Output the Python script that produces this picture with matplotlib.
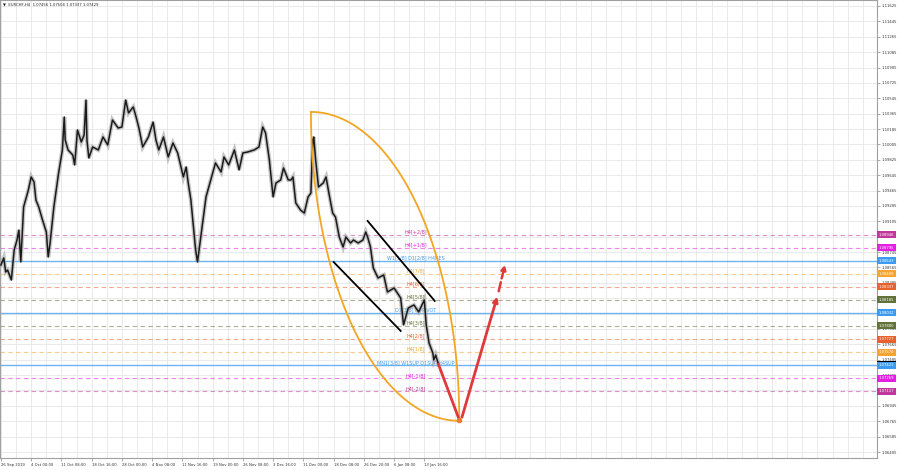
import numpy as np
import matplotlib
matplotlib.use("Agg")
from matplotlib import pyplot as plt

# price path (bar index, close)
bars = [0, 3, 5, 7, 11, 14, 17, 19, 21, 24, 29, 32, 35, 37, 40, 44, 48, 50, 52, 56,
        61, 65, 67, 68, 71, 76, 78, 81, 85, 88, 90, 91, 93, 97, 103, 108, 113, 118, 124, 128,
        132, 135, 140, 143, 146, 150, 156, 161, 164, 167, 172, 177, 182, 187, 193, 196, 198, 201, 204, 206,
        208, 212, 217, 222, 227, 233, 236, 241, 247, 252, 256, 261, 268, 273, 277, 280, 284, 288, 291, 296,
        299, 304, 307, 309, 312, 317, 321, 325, 328, 330, 331, 333, 336, 341, 344, 347, 351, 354, 358, 362,
        365, 370, 373, 378, 383, 386, 388, 391, 394, 399, 405, 409, 416, 423, 426, 431, 437, 442, 448, 450,
        453, 457, 458, 460, 463]
close = [1.08594, 1.08676, 1.08512, 1.08535, 1.08418, 1.08769, 1.08886, 1.09003, 1.08629, 1.09273,
         1.09471, 1.09624, 1.09565, 1.09354, 1.09273, 1.09120, 1.08980, 1.08687, 1.08851, 1.09273,
         1.09670, 1.09940, 1.10326, 1.10057, 1.09940, 1.09881, 1.09764, 1.10174, 1.10033, 1.10115,
         1.10525, 1.10057, 1.09846, 1.09975, 1.09940, 1.10092, 1.09998, 1.10291, 1.10197, 1.10209,
         1.10525, 1.10373, 1.10443, 1.10326, 1.10197, 1.09975, 1.10092, 1.10267, 1.10057, 1.09940,
         1.10092, 1.09858, 1.10022, 1.09905, 1.09624, 1.09741, 1.09565, 1.09354, 1.09003, 1.08769,
         1.08629, 1.08968, 1.09390, 1.09589, 1.09788, 1.09682, 1.09858, 1.09764, 1.09940, 1.09706,
         1.09905, 1.09916, 1.09940, 1.09975, 1.10209, 1.10139, 1.09823, 1.09390, 1.09553, 1.09589,
         1.09729, 1.09589, 1.09589, 1.09624, 1.09319, 1.09237, 1.09202, 1.09390, 1.09436, 1.10057,
         1.10092, 1.09823, 1.09507, 1.09553, 1.09624, 1.09436, 1.09202, 1.09155, 1.08921, 1.08804,
         1.08921, 1.08851, 1.08886, 1.08851, 1.08886, 1.08980, 1.08921, 1.08804, 1.08559, 1.08442,
         1.08477, 1.08278, 1.08324, 1.08207, 1.07892, 1.08090, 1.08126, 1.08044, 1.08184, 1.07892,
         1.07681, 1.07564, 1.07482, 1.07540, 1.07429]

# murrey levels
level_prices = [1.08946, 1.08795, 1.08643, 1.08490, 1.08337, 1.08185, 1.08032,
                1.07880, 1.07727, 1.07574, 1.07421, 1.07269, 1.07117]
level_names = ["H4[+2/8]", "H4[+1/8]", "W1[1/8] D1[2/8] H4RES", "H4[7/8]", "H4[6/8]", "H4[5/8]",
               "D1[3/8] H4PIVOT", "H4[3/8]", "H4[2/8]", "H4[1/8]", "MN1[3/8] W1SUP D1SUP H4SUP",
               "H4[-1/8]", "H4[-2/8]"]
level_colors = ['#C0399A', '#E21FE2', '#3D9BEF', '#F5A331', '#E8612C', '#63723A', '#3D9BEF',
                '#63723A', '#E8612C', '#F5A331', '#3D9BEF', '#E21FE2', '#C0399A']
level_solid = [False, False, True, False, False, False, True, False, False, False, True, False, False]

last_price = 1.07429

# x axis
date_ticks = [0, 32, 64, 96, 128, 160, 192, 224, 256, 288, 320, 352, 384, 416, 448]
date_labels = ["26 Sep 2019", "4 Oct 00:00", "11 Oct 08:00", "18 Oct 16:00", "28 Oct 00:00",
               "4 Nov 08:00", "11 Nov 16:00", "19 Nov 00:00", "26 Nov 08:00", "3 Dec 16:00",
               "11 Dec 00:00", "18 Dec 08:00", "26 Dec 20:00", "6 Jan 08:00", "13 Jan 16:00"]
price_ticks = [1.06405, 1.06585, 1.06765, 1.06945, 1.07125, 1.07305, 1.07485, 1.07665, 1.07845,
               1.08025, 1.08205, 1.08385, 1.08565, 1.08745, 1.08925, 1.09105, 1.09285, 1.09465,
               1.09645, 1.09825, 1.10005, 1.10185, 1.10365, 1.10545, 1.10725, 1.10905, 1.11085,
               1.11265, 1.11445, 1.11625]

# drawn objects
arc_bars = [328, 485]
arc_prices = [1.10385, 1.06770]
chan_upper = ([388, 459], [1.09109, 1.08173])
chan_lower = ([352, 423], [1.08629, 1.07822])
arrow_down = ([463, 485], [1.07429, 1.06781])
arrow_up = ([487, 526], [1.06781, 1.08255])
arrow_dash = ([526, 534], [1.08255, 1.08629])

fig = plt.figure(figsize=(9, 4.7), dpi=100)
ax = fig.add_axes([0.0, 12 / 470, 877 / 900, 458 / 470])
ax.set_xlim(-1, 927)
ax.set_ylim(1.06335, 1.11695)

fs = 2.7
ax.set_xticks(np.arange(0, 927, 16), minor=True)
ax.set_xticks(date_ticks)
ax.set_xticklabels(date_labels, ha='left', fontsize=fs, color='#333333')
ax.set_yticks(price_ticks)
ylabels = []
for p in price_ticks:
    if min(abs(p - q) for q in level_prices) < 0.00025:
        ylabels.append("")
    else:
        ylabels.append("%.5f" % p)
ax.set_yticklabels(ylabels, fontsize=fs, color='#333333')
ax.yaxis.tick_right()
ax.tick_params(axis='both', length=2, width=0.5, color='#888888', pad=1.5)
ax.tick_params(axis='x', which='minor', length=0)
ax.grid(True, which='both', color='#E6E6E6', lw=0.6)
ax.set_axisbelow(True)
for s in ax.spines.values():
    s.set_color('#A0A0A0')
    s.set_linewidth(0.8)

# levels
for p, name, c, solid in zip(level_prices, level_names, level_colors, level_solid):
    if solid:
        ax.axhline(p, color=c, lw=1.0, alpha=0.75, zorder=1)
    else:
        ax.axhline(p, color=c, lw=0.8, alpha=0.55, ls=(0, (4, 3)), zorder=1)
    ax.text(439, p + 0.00004, name, color=c, fontsize=3.5, ha='center', va='bottom', zorder=2)

# candles
ax.plot(bars, close, color='#A0A0A0', lw=3.0, alpha=0.6, zorder=3, solid_joinstyle='miter')
ax.plot(bars, close, color='#1A1A1A', lw=1.1, zorder=4)

# orange arcs
t = np.linspace(0, np.pi / 2, 120)
dx = arc_bars[1] - arc_bars[0]
dy = arc_prices[0] - arc_prices[1]
ax.plot(arc_bars[0] + dx * np.sin(t), arc_prices[1] + dy * np.cos(t), color='#F2A623', lw=1.3, zorder=5)
ax.plot(arc_bars[1] - dx * np.cos(t), arc_prices[0] - dy * np.sin(t), color='#F2A623', lw=1.3, zorder=5)

# channel
ax.plot(*chan_upper, color='black', lw=1.3, zorder=5)
ax.plot(*chan_lower, color='black', lw=1.3, zorder=5)

# arrows
red = '#E0393B'
ax.plot(*arrow_down, color=red, lw=2.0, zorder=6)
ax.plot(arrow_down[0][1], arrow_down[1][1], 'o', color='#F07830', ms=3, zorder=7)
ax.annotate('', xy=(arrow_up[0][1], arrow_up[1][1]), xytext=(arrow_up[0][0], arrow_up[1][0]),
            arrowprops=dict(arrowstyle='-|>', color=red, lw=2.0, mutation_scale=7), zorder=6)
ax.annotate('', xy=(arrow_dash[0][1], arrow_dash[1][1]), xytext=(arrow_dash[0][0], arrow_dash[1][0]),
            arrowprops=dict(arrowstyle='-|>', color=red, lw=1.8, ls='--', mutation_scale=7), zorder=6)

# price labels on the right
ax.annotate("%.5f" % last_price, xy=(1.0, last_price), xycoords=('axes fraction', 'data'),
            xytext=(1.2, 0), textcoords='offset points', fontsize=fs, color='white', va='center',
            ha='left', annotation_clip=False, zorder=8,
            bbox=dict(boxstyle='square,pad=0.4', fc='black', ec='none'))
for p, c in zip(level_prices, level_colors):
    ax.annotate("%.5f" % p, xy=(1.0, p), xycoords=('axes fraction', 'data'),
                xytext=(1.2, 0), textcoords='offset points', fontsize=fs, color='white', va='center',
                ha='left', annotation_clip=False, zorder=9,
                bbox=dict(boxstyle='square,pad=0.4', fc=c, ec='none'))

ax.text(0.003, 0.995, "\u25BC  EURCHF,H4  1.07456 1.07504 1.07337 1.07429", transform=ax.transAxes,
        fontsize=fs, color='#222222', va='top', ha='left')

fig.savefig('out.png', dpi=100, facecolor='white')
